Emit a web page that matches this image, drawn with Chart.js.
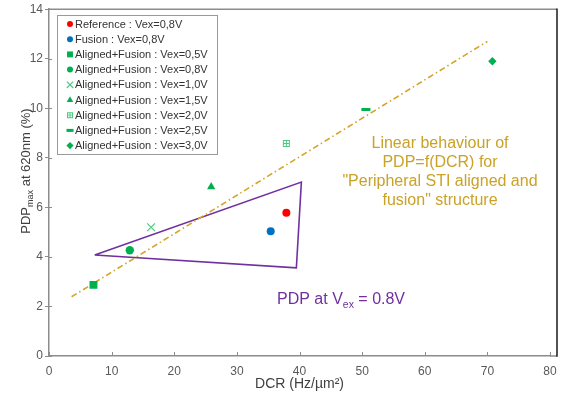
<!DOCTYPE html>
<html><head><meta charset="utf-8">
<script src="https://cdn.jsdelivr.net/npm/chart.js@4/dist/chart.umd.min.js"></script>
<style>html,body{margin:0;padding:0;background:#fff;overflow:hidden}</style>
</head><body>
<canvas id="c" width="571" height="397"></canvas>
<script>
// ---- data ----
const seriesNames = [
  "Reference : Vex=0,8V",
  "Fusion : Vex=0,8V",
  "Aligned+Fusion : Vex=0,5V",
  "Aligned+Fusion : Vex=0,8V",
  "Aligned+Fusion : Vex=1,0V",
  "Aligned+Fusion : Vex=1,5V",
  "Aligned+Fusion : Vex=2,0V",
  "Aligned+Fusion : Vex=2,5V",
  "Aligned+Fusion : Vex=3,0V"
];
const dcrValues = [37.9, 35.4, 7.1, 12.9, 16.3, 25.9, 37.9, 50.6, 70.8];
const pdpValues = [5.78, 5.04, 2.87, 4.27, 5.2, 6.83, 8.58, 9.95, 11.9];
const trendDcr = [3.6, 70.0];
const trendPdp = [2.39, 12.7];
const zoneDcr = [7.3, 40.3, 39.5, 7.3];
const zonePdp = [4.08, 7.02, 3.56, 4.08];
const xTickValues = [0, 10, 20, 30, 40, 50, 60, 70, 80];
const yTickValues = [0, 2, 4, 6, 8, 10, 12, 14];
const trendLabel = ["Linear behaviour of", "PDP=f(DCR) for", "\"Peripheral STI aligned and", "fusion\" structure"];

// ---- styles ----
function boxPlus(size, color) {
  const cv = document.createElement('canvas');
  cv.width = size; cv.height = size;
  const g = cv.getContext('2d');
  g.strokeStyle = color; g.lineWidth = 1;
  g.strokeRect(1.5, 1.5, size - 3, size - 3);
  g.beginPath();
  g.moveTo(size / 2, 1.5); g.lineTo(size / 2, size - 1.5);
  g.moveTo(1.5, size / 2); g.lineTo(size - 1.5, size / 2);
  g.stroke();
  return cv;
}
const GREEN = '#00B050', LIGHTGREEN = '#4CCB80';
const styles = [
  {c: '#FF0000', ps: 'circle', r: 4, lr: 3, bw: 0},
  {c: '#0070C0', ps: 'circle', r: 4, lr: 3, bw: 0},
  {c: GREEN, ps: 'rect', r: 5.6, lr: 4.2, bw: 0},
  {c: GREEN, ps: 'circle', r: 4.2, lr: 3, bw: 0},
  {c: LIGHTGREEN, ps: 'crossRot', r: 5.5, lr: 4.5, bw: 1.2},
  {c: GREEN, ps: 'triangle', r: 4.8, lr: 3.8, bw: 0},
  {c: LIGHTGREEN, ps: boxPlus(9, LIGHTGREEN), lps: boxPlus(8, LIGHTGREEN), r: 4.5, lr: 4, bw: 1},
  {c: GREEN, ps: 'line', r: 4.5, lr: 3.5, bw: 3},
  {c: GREEN, ps: 'rectRot', r: 4.2, lr: 3.6, bw: 0}
];

const datasets = seriesNames.map((name, i) => ({
  label: name,
  data: [{x: dcrValues[i], y: pdpValues[i]}],
  pointStyle: styles[i].ps,
  pointRadius: styles[i].r,
  pointHoverRadius: styles[i].r,
  backgroundColor: styles[i].c,
  borderColor: styles[i].c,
  pointBorderWidth: styles[i].bw,
  showLine: false,
  order: 1
}));
datasets.push({
  label: 'trend',
  data: trendDcr.map((x, i) => ({x, y: trendPdp[i]})),
  showLine: true, pointRadius: 0, borderColor: '#D4A52C', borderWidth: 1.6,
  borderDash: [6, 3, 1.5, 3], fill: false, order: 2
});
datasets.push({
  label: 'zone',
  data: zoneDcr.map((x, i) => ({x, y: zonePdp[i]})),
  showLine: true, pointRadius: 0, borderColor: '#7030A0', borderWidth: 1.6,
  fill: false, tension: 0, order: 2
});

const FONT = '"Liberation Sans", Arial, sans-serif';

const decor = {
  id: 'decor',
  afterDraw(chart) {
    const ctx = chart.ctx, a = chart.chartArea;
    const xs = chart.scales.x, ys = chart.scales.y;
    ctx.save();
    // frame: top grey, right black
    ctx.lineWidth = 1.5;
    ctx.strokeStyle = '#8C8C8C';
    ctx.beginPath(); ctx.moveTo(a.left, a.top); ctx.lineTo(557, a.top); ctx.stroke();
    ctx.beginPath(); ctx.moveTo(a.right, a.bottom); ctx.lineTo(557, a.bottom); ctx.stroke();
    ctx.strokeStyle = '#1a1a1a';
    ctx.beginPath(); ctx.moveTo(557, a.top - 0.75); ctx.lineTo(557, a.bottom + 0.75); ctx.stroke();
    // inward ticks
    ctx.strokeStyle = '#8C8C8C'; ctx.lineWidth = 1;
    xTickValues.forEach(v => { const px = Math.round(xs.getPixelForValue(v)) + 0.5; ctx.beginPath(); ctx.moveTo(px, a.bottom); ctx.lineTo(px, a.bottom - 4); ctx.stroke(); });
    yTickValues.forEach(v => { const py = Math.round(ys.getPixelForValue(v)) + 0.5; ctx.beginPath(); ctx.moveTo(a.left, py); ctx.lineTo(a.left + 3, py); ctx.stroke(); });

    // legend
    const lx = 57.5, ly = 15.5, lw = 160, lh = 139;
    ctx.fillStyle = '#fff'; ctx.fillRect(lx, ly, lw, lh);
    ctx.strokeStyle = '#9A9A9A'; ctx.lineWidth = 1; ctx.strokeRect(lx, ly, lw, lh);
    ctx.font = '11px ' + FONT; ctx.textBaseline = 'middle'; ctx.textAlign = 'left';
    seriesNames.forEach((name, i) => {
      const y = 24 + 15.2 * i, st = styles[i];
      ctx.fillStyle = st.c; ctx.strokeStyle = st.c; ctx.lineWidth = st.bw || 1;
      const ps = st.lps || st.ps;
      if (Chart.helpers && Chart.helpers.drawPoint) {
        Chart.helpers.drawPoint(ctx, {pointStyle: ps, radius: st.lr, borderWidth: st.bw, rotation: 0}, 70, y);
      }
      ctx.fillStyle = '#333333';
      ctx.fillText(name, 75, y + 0.5);
    });

    // trend annotation
    ctx.fillStyle = '#C9A227';
    ctx.font = '16px ' + FONT; ctx.textAlign = 'center'; ctx.textBaseline = 'middle';
    trendLabel.forEach((t, i) => ctx.fillText(t, 440, 144 + 19 * i));

    // zone annotation with subscript
    ctx.fillStyle = '#7030A0'; ctx.textAlign = 'left'; ctx.textBaseline = 'alphabetic';
    let x0 = 277; const base = 304;
    ctx.font = '16px ' + FONT; ctx.fillText('PDP at V', x0, base); x0 += ctx.measureText('PDP at V').width;
    ctx.font = '10.5px ' + FONT; ctx.fillText('ex', x0, base + 3.5); x0 += ctx.measureText('ex').width;
    ctx.font = '16px ' + FONT; ctx.fillText(' = 0.8V', x0, base);

    // y title with subscript
    ctx.fillStyle = '#404040';
    ctx.translate(25, 171); ctx.rotate(-Math.PI / 2);
    const p1 = 'PDP', p2 = 'max', p3 = ' at 620nm (%)';
    ctx.font = '13px ' + FONT; const w1 = ctx.measureText(p1).width, w3 = ctx.measureText(p3).width;
    ctx.font = '9px ' + FONT; const w2 = ctx.measureText(p2).width;
    let tx = -(w1 + w2 + w3) / 2; const tb = 5;
    ctx.font = '13px ' + FONT; ctx.fillText(p1, tx, tb); tx += w1;
    ctx.font = '9px ' + FONT; ctx.fillText(p2, tx, tb + 3); tx += w2;
    ctx.font = '13px ' + FONT; ctx.fillText(p3, tx, tb);
    ctx.restore();
  }
};

new Chart(document.getElementById('c'), {
  type: 'scatter',
  data: {datasets},
  options: {
    responsive: false, animation: false, devicePixelRatio: 1,
    layout: {padding: {top: 9, right: 21, left: 0, bottom: 0}},
    plugins: {legend: {display: false}, tooltip: {enabled: false}},
    scales: {
      x: {
        type: 'linear', min: 0, max: 80,
        afterFit: s => { s.height = 41; },
        afterBuildTicks: s => { s.ticks = xTickValues.map(v => ({value: v})); },
        ticks: {color: '#595959', font: {family: FONT, size: 12}, padding: 8, maxRotation: 0},
        grid: {display: false, drawTicks: false},
        border: {display: true, color: '#8C8C8C', width: 1.5},
        title: {display: true, text: 'DCR (Hz/µm²)', color: '#404040', font: {family: FONT, size: 14}, padding: {top: 0, bottom: 4}}
      },
      y: {
        type: 'linear', min: 0, max: 14,
        afterFit: s => { s.width = 49; },
        afterBuildTicks: s => { s.ticks = yTickValues.map(v => ({value: v})); },
        ticks: {color: '#595959', font: {family: FONT, size: 12}, padding: 2},
        grid: {display: true, drawOnChartArea: false, drawTicks: true, tickLength: 4, color: '#8C8C8C', lineWidth: 1},
        border: {display: true, color: '#8C8C8C', width: 1.5}
      }
    }
  },
  plugins: [decor]
});
</script>
</body></html>
